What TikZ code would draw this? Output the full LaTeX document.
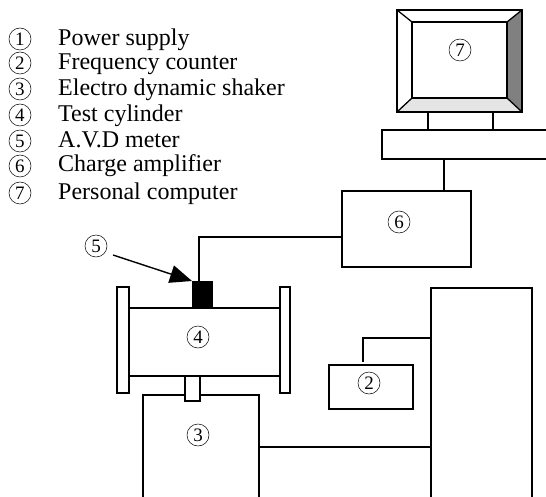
\documentclass[tikz,border=0pt]{standalone}
\usepackage{fontspec}
\setmainfont{Liberation Serif}
\usetikzlibrary{arrows.meta}
\tikzset{
	numeral/.style={draw, circle, line width=0.5pt, inner sep=0pt, minimum size=22pt, font=\fontsize{19}{19}\selectfont},
	item/.style={anchor=base west, inner sep=0pt, font=\fontsize{24}{24}\selectfont},
	wire/.style={line width=1.1pt},
	unit/.style={draw, line width=1.1pt, inner sep=0pt, outer sep=0pt}
}
\begin{document}
\begin{tikzpicture}[x=1pt,y=-1pt]
	\useasboundingbox (0,0) rectangle (546,497);
	
	%%%%% LEGEND %%%%%
	\foreach \num/\ypos/\base/\itemtext in {1/39/46/Power supply,2/63/70/Frequency counter,3/89/96/Electro dynamic shaker,4/115/122/Test cylinder,5/141/148/A.V.D meter,6/166/172/Charge amplifier,7/193/200/Personal computer}{
		\node[numeral] (num\num) at (20,\ypos) {\num};
		\node[item] (item\num) at (58,\base) {\itemtext};
	}
	
	%%%%% COMPUTER %%%%%
	\fill[black!50] (507,22) -- (522,10) -- (522,112) -- (507,98) -- cycle;
	\fill[black!10] (412,98) -- (507,98) -- (522,112) -- (397,112) -- cycle;
	\node[unit, line width=1.3pt, minimum width=125pt, minimum height=102pt] (monitor) at (459.5,61) {};
	\node[unit, minimum width=95pt, minimum height=76pt] (screen) at (459.5,60) {};
	\draw[line width=1.3pt] (monitor.north west) -- (screen.north west) (monitor.north east) -- (screen.north east) (monitor.south west) -- (screen.south west) (monitor.south east) -- (screen.south east);
	\node[numeral] (seven) at (460,50) {7};
	\coordinate (neckl) at (428,112);
	\coordinate (neckr) at (493,112);
	\coordinate (basel) at (428,130);
	\coordinate (baser) at (493,130);
	\coordinate (desk) at (444,159);
	\draw[wire] (neckl) -- (basel);
	\draw[wire] (neckr) -- (baser);
	\draw[wire] (546,130) -- (382,130) -- (382,159) -- (546,159);
	
	%%%%% AMPLIFIER %%%%%
	\node[unit, minimum width=129pt, minimum height=76pt] (amp) at (406.5,229) {};
	\node[numeral] (six) at (399,222) {6};
	\coordinate (ampin) at (342,237);
	\coordinate (ampout) at (444,191);
	\draw[wire] (desk) -- (ampout);
	
	%%%%% CYLINDER %%%%%
	\node[unit, minimum width=12pt, minimum height=106pt] (flangel) at (123,340) {};
	\node[unit, minimum width=10pt, minimum height=106pt] (flanger) at (285,340) {};
	\node[unit, minimum width=151pt, minimum height=68pt] (cylinder) at (204.5,342) {};
	\node[fill=black, inner sep=0pt, outer sep=0pt, minimum width=21pt, minimum height=27pt] (meter) at (202.5,294.5) {};
	\node[numeral] (four) at (198,337) {4};
	\node[numeral] (five) at (96,246) {5};
	\coordinate (meterin) at (199,281);
	\coordinate (arrowtail) at (113,255);
	\draw[wire] (ampin) -| (meterin);
	\draw[line width=1.4pt, -{Triangle[length=22pt,width=18pt]}] (arrowtail) -- (meter.north west);
	
	%%%%% SHAKER %%%%%
	\draw[wire] (143,497) -- (143,395) -- (259,395) -- (259,497);
	\node[unit, fill=white, minimum width=15pt, minimum height=25pt] (stem) at (192.5,388.5) {};
	\node[numeral] (three) at (198,435) {3};
	\coordinate (shakerout) at (259,447);
	\coordinate (supplyin) at (431,447);
	\draw[wire] (shakerout) -- (supplyin);
	
	%%%%% COUNTER AND SUPPLY %%%%%
	\draw[wire] (431,497) -- (431,288) -- (532,288) -- (532,497);
	\node[unit, minimum width=84pt, minimum height=44pt] (counter) at (371,387) {};
	\node[numeral] (two) at (369,383) {2};
	\coordinate (counterout) at (363,362);
	\coordinate (supplyout) at (431,338);
	\draw[wire] (counterout) |- (supplyout);
\end{tikzpicture}
\end{document}
